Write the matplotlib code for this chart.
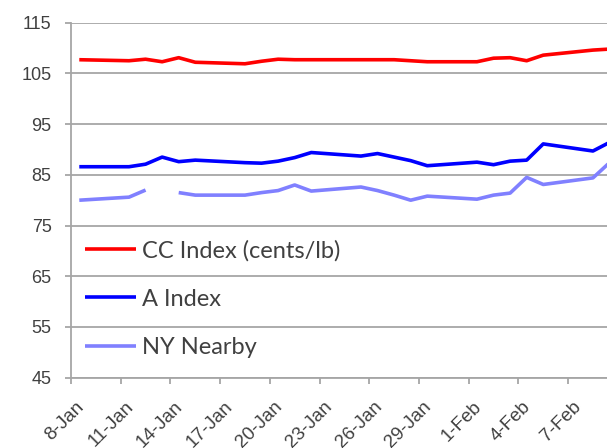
import matplotlib
matplotlib.use("Agg")
import matplotlib.pyplot as plt
import matplotlib.transforms as mtransforms
import numpy as np
import pandas as pd

# ---- data ----
dates = ["2016-01-08", "2016-01-11", "2016-01-12", "2016-01-13", "2016-01-14", "2016-01-15",
         "2016-01-18", "2016-01-19", "2016-01-20", "2016-01-21", "2016-01-22",
         "2016-01-25", "2016-01-26", "2016-01-27", "2016-01-28", "2016-01-29",
         "2016-02-01", "2016-02-02", "2016-02-03", "2016-02-04", "2016-02-05",
         "2016-02-08", "2016-02-09"]
cc_index = [107.7, 107.5, 107.8, 107.3, 108.1, 107.2,
            106.9, 107.4, 107.8, 107.7, 107.7,
            107.7, 107.7, 107.7, 107.5, 107.3,
            107.3, 108.0, 108.1, 107.5, 108.6,
            109.6, 109.8]
a_index = [86.6, 86.6, 87.1, 88.5, 87.6, 87.9,
           87.4, 87.3, 87.7, 88.4, 89.4,
           88.7, 89.2, 88.5, 87.8, 86.8,
           87.5, 87.0, 87.7, 87.9, 91.1,
           89.7, 91.4]
ny_nearby = [80.0, 80.6, 82.0, np.nan, 81.5, 81.0,
             81.0, 81.5, 81.9, 83.0, 81.8,
             82.6, 81.9, 81.0, 80.0, 80.8,
             80.2, 81.0, 81.4, 84.5, 83.1,
             84.4, 87.4]
series_names = ["CC Index (cents/lb)", "A Index", "NY Nearby"]
series_colors = ["#FF0000", "#0000FF", "#8080FF"]
tick_labels = ["8-Jan", "11-Jan", "14-Jan", "17-Jan", "20-Jan", "23-Jan",
               "26-Jan", "29-Jan", "1-Feb", "4-Feb", "7-Feb"]
y_ticks = [45, 55, 65, 75, 85, 95, 105, 115]

# ---- figure ----
W, H, DPI = 607, 448, 100
fig = plt.figure(figsize=(W / DPI, H / DPI), dpi=DPI)
px_per_day = 16.57
left_px, top_px, bottom_px = 71, 22.7, 377.7
xmax = 33
ax = fig.add_axes([left_px / W, 1 - bottom_px / H,
                   xmax * px_per_day / W, (bottom_px - top_px) / H])

start = pd.Timestamp(dates[0])
x = np.array([(pd.Timestamp(d) - start).days for d in dates]) + 0.5

for vals, name, col in zip([cc_index, a_index, ny_nearby], series_names, series_colors):
    ax.plot(x, vals, color=col, lw=2.6, label=name, solid_joinstyle="round",
            solid_capstyle="butt")

ax.set_xlim(0, xmax)
ax.set_ylim(45, 115)
ax.set_yticks(y_ticks)
ax.set_yticklabels([str(v) for v in y_ticks])
ax.set_xticks(np.arange(0, 3 * len(tick_labels), 3))
ax.set_xticklabels(tick_labels)

grid_col = "#A6A6A6"
ax.yaxis.grid(True, color=grid_col, lw=1.3)
ax.set_axisbelow(True)
for s in ["top", "right"]:
    ax.spines[s].set_visible(False)
for s in ["left", "bottom"]:
    ax.spines[s].set_color(grid_col)
    ax.spines[s].set_linewidth(1.3)

txt_col = "#404040"
ax.tick_params(axis="y", length=4, width=1.3, color=grid_col, pad=10,
               labelsize=13, labelcolor=txt_col)
ax.tick_params(axis="x", length=4, width=1.3, color=grid_col, pad=15,
               labelsize=13.5, labelcolor=txt_col)
for lab in ax.get_yticklabels():
    lab.set_fontfamily("Liberation Sans")
offset = mtransforms.ScaledTranslation(10 / DPI, 0, fig.dpi_scale_trans)
for lab in ax.get_xticklabels():
    lab.set_fontfamily("Liberation Sans")
    lab.set_rotation(45)
    lab.set_rotation_mode("anchor")
    lab.set_ha("right")
    lab.set_va("center")
    lab.set_transform(lab.get_transform() + offset)

leg = ax.legend(loc="upper left", bbox_to_anchor=(85 / W, 1 - 240 / H),
                bbox_transform=fig.transFigure, frameon=False,
                prop={"family": "Lato", "size": 17}, handlelength=2.15,
                handletextpad=0.28, labelspacing=1.15, borderpad=0,
                borderaxespad=0)
for t in leg.get_texts():
    t.set_color(txt_col)
for h in leg.get_lines():
    h.set_linewidth(2.6)

fig.savefig("out.png", dpi=DPI)
